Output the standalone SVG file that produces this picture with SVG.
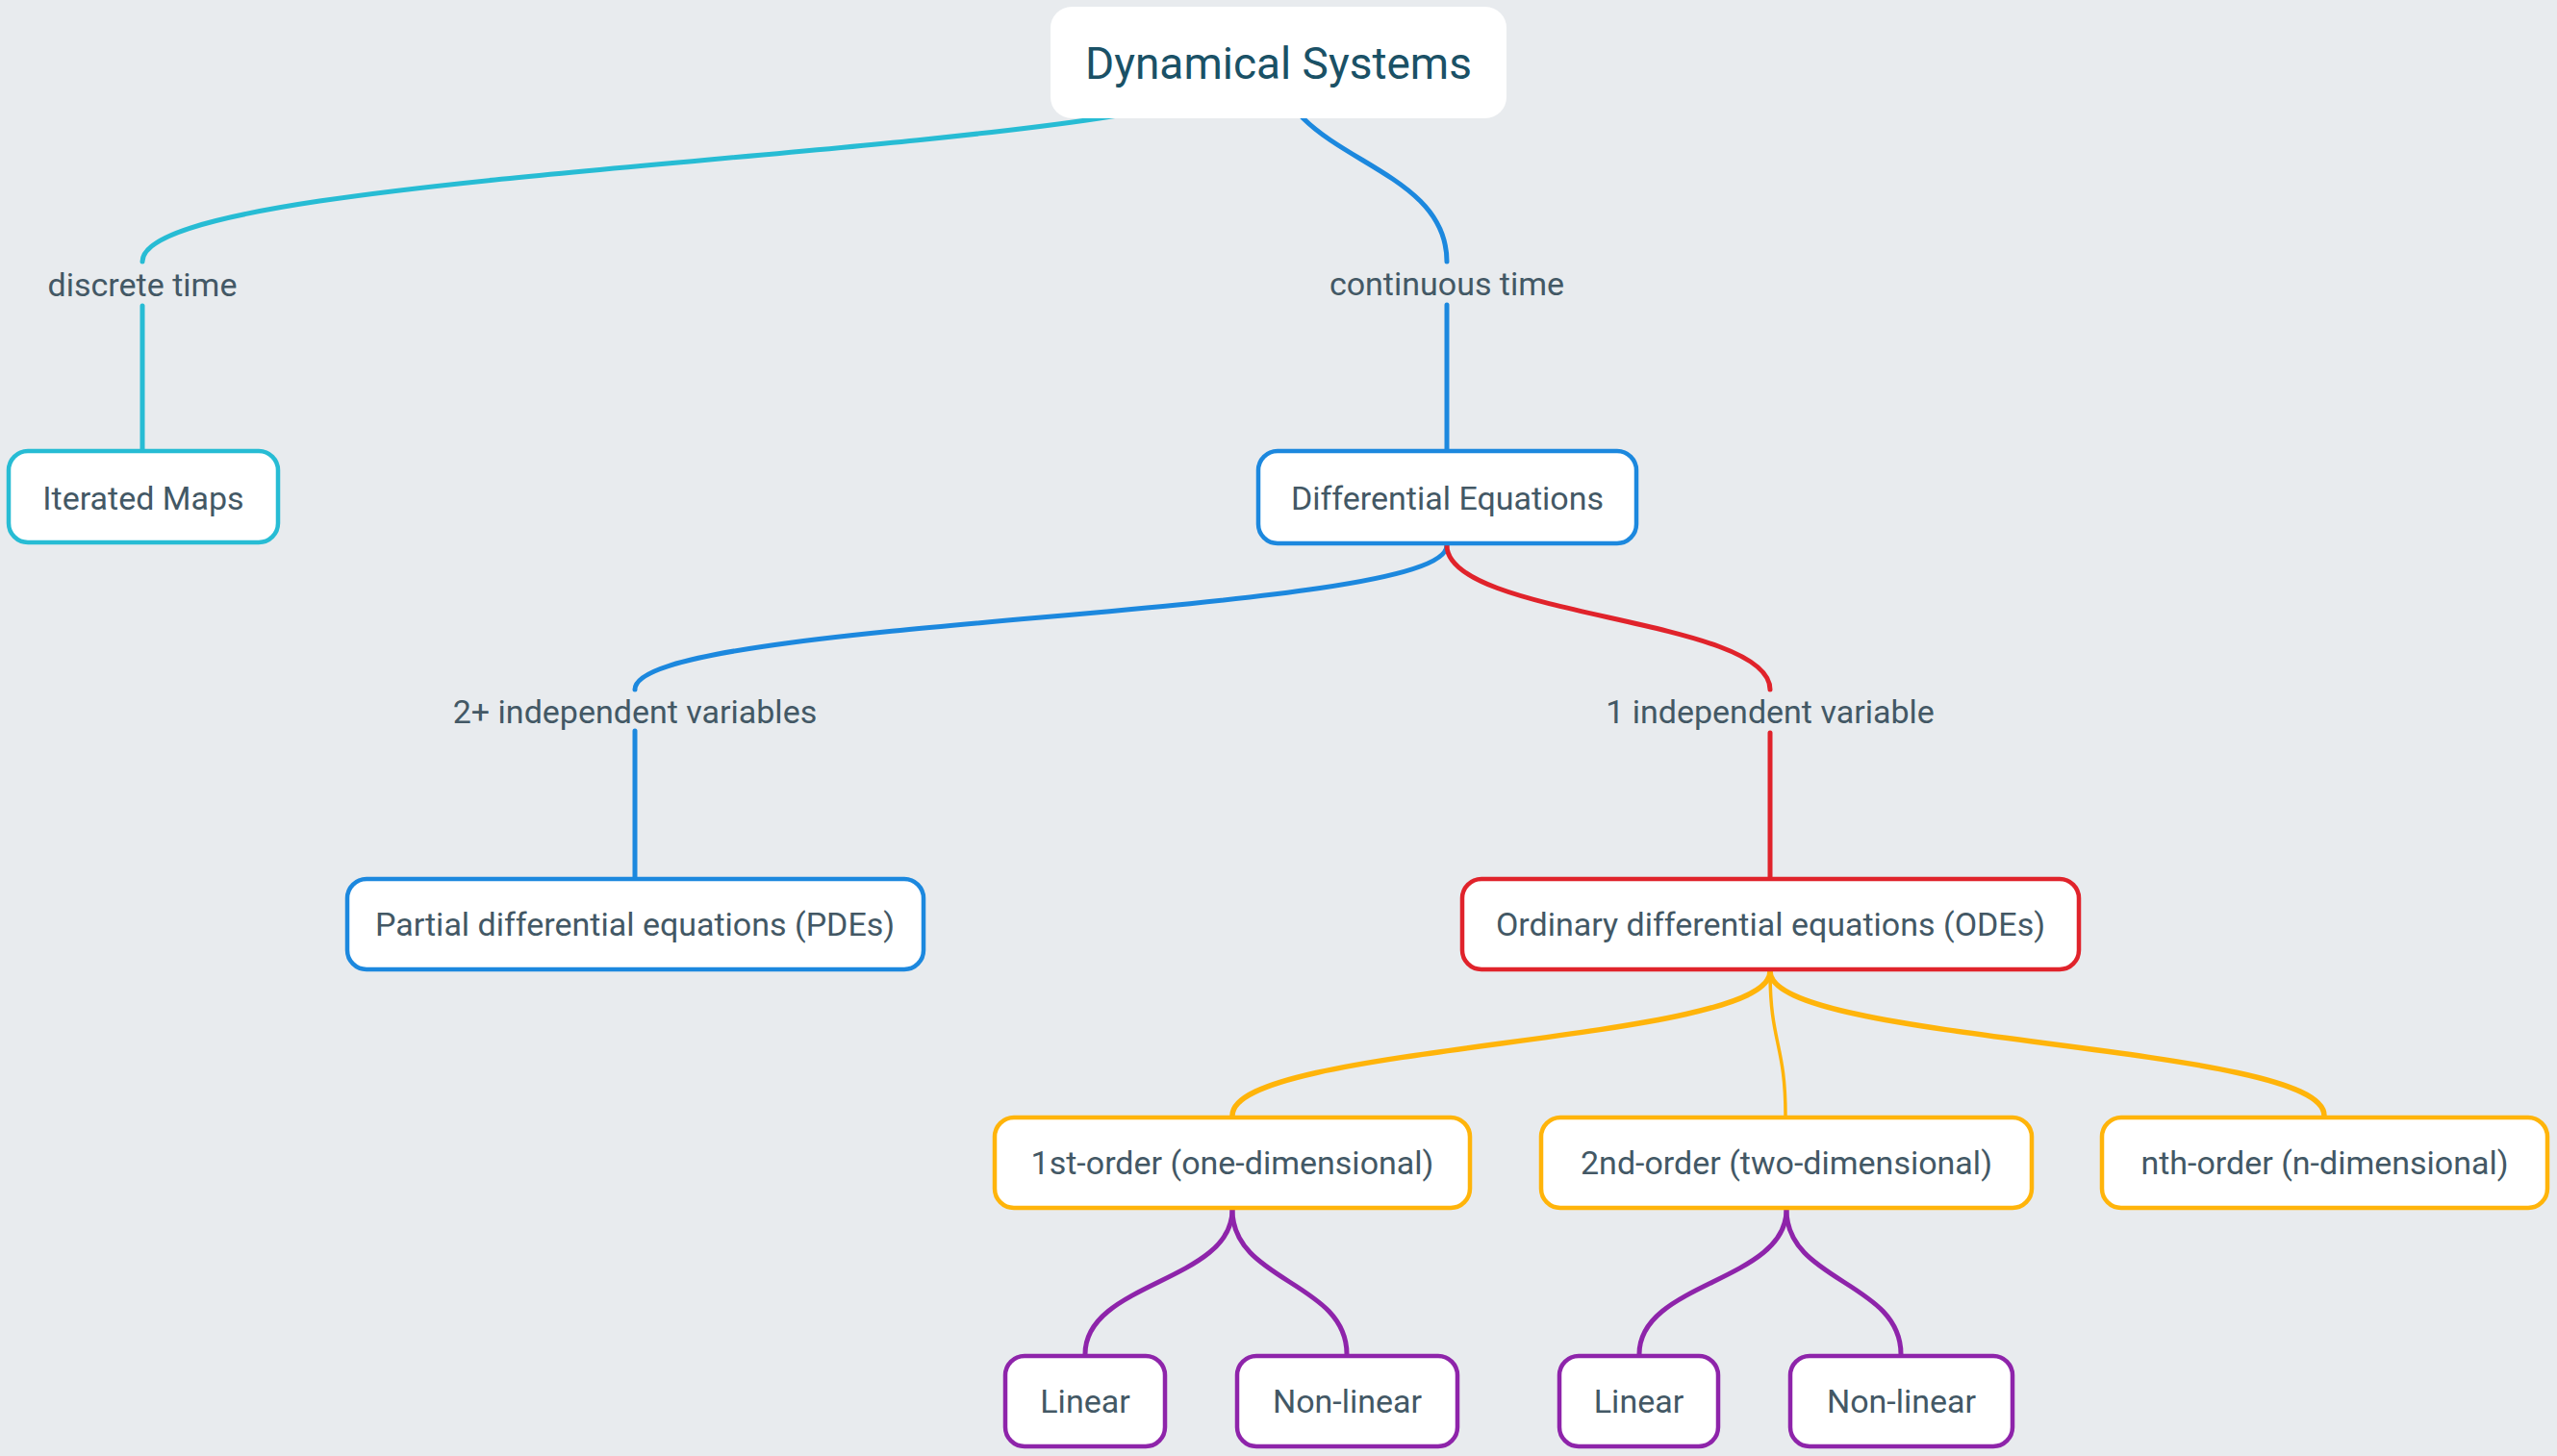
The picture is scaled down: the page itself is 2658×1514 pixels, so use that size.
<svg xmlns="http://www.w3.org/2000/svg" width="2658" height="1514" viewBox="0 0 2658 1514">
<style>
.bg{fill:#e8ebee}
.box{fill:#ffffff;stroke-width:4.5}
.t{font-family:Roboto,"Liberation Sans",sans-serif;font-size:34px;fill:#435865;text-anchor:middle}
.root{font-size:46px;fill:#1a5166}
.lnk{fill:none;stroke-width:5;stroke-linecap:round}
.cy{stroke:#27bcd4}
.bl{stroke:#1c88de}
.rd{stroke:#e0232b}
.yl{stroke:#ffb40a}
.pu{stroke:#8e24aa}
</style>
<rect class="bg" x="0" y="0" width="2658" height="1514"/>
<g id="connectors">
<path class="lnk cy" d="M1327,60 C1327,166 148,166 148,272"/>
<path class="lnk cy" d="M148,318 V467"/>
<path class="lnk bl" d="M1327,60 C1327,166 1504,166 1504,272"/>
<path class="lnk bl" d="M1504,317 V467"/>
<path class="lnk bl" d="M1504,567 C1504,642 660,642 660,717"/>
<path class="lnk bl" d="M660,760 V912"/>
<path class="lnk rd" d="M1504,567 C1504,642 1840,642 1840,717"/>
<path class="lnk rd" d="M1840,762 V912"/>
<path class="lnk yl" style="stroke-width:5.5" d="M1840,1010 C1840,1085 1281,1085 1281,1160"/>
<path class="lnk yl" style="stroke-width:3.5" d="M1840,1010 C1840,1085 1856,1085 1856,1160"/>
<path class="lnk yl" style="stroke-width:5.5" d="M1840,1010 C1840,1085 2416,1085 2416,1160"/>
<path class="lnk pu" d="M1281,1258 C1281,1333 1128,1333 1128,1408"/>
<path class="lnk pu" d="M1281,1258 C1281,1333 1400,1333 1400,1408"/>
<path class="lnk pu" d="M1857,1258 C1857,1333 1704,1333 1704,1408"/>
<path class="lnk pu" d="M1857,1258 C1857,1333 1976,1333 1976,1408"/>
</g>
<g id="labels">
<text class="t" x="148" y="308">discrete time</text>
<text class="t" x="1504" y="307">continuous time</text>
<text class="t" x="660" y="752">2+ independent variables</text>
<text class="t" x="1840" y="752">1 independent variable</text>
</g>
<g id="node-root">
<rect x="1092" y="7" width="474" height="116" rx="22" fill="#ffffff"/>
<text class="t root" x="1329" y="82">Dynamical Systems</text>
</g>
<g id="node-iterated">
<rect class="box cy" x="9" y="469" width="280" height="95" rx="20"/>
<text class="t" x="149" y="530">Iterated Maps</text>
</g>
<g id="node-diffeq">
<rect class="box bl" x="1308" y="469" width="393" height="96" rx="20"/>
<text class="t" x="1504.5" y="530">Differential Equations</text>
</g>
<g id="node-pde">
<rect class="box bl" x="361" y="914" width="599" height="94" rx="20"/>
<text class="t" x="660" y="973">Partial differential equations (PDEs)</text>
</g>
<g id="node-ode">
<rect class="box rd" x="1520" y="914" width="641" height="94" rx="20"/>
<text class="t" x="1840.5" y="973">Ordinary differential equations (ODEs)</text>
</g>
<g id="node-first">
<rect class="box yl" x="1034" y="1162" width="494" height="94" rx="20"/>
<text class="t" x="1281" y="1221">1st-order (one-dimensional)</text>
</g>
<g id="node-second">
<rect class="box yl" x="1602" y="1162" width="510" height="94" rx="20"/>
<text class="t" x="1857" y="1221">2nd-order (two-dimensional)</text>
</g>
<g id="node-nth">
<rect class="box yl" x="2185" y="1162" width="463" height="94" rx="20"/>
<text class="t" x="2416.5" y="1221">nth-order (n-dimensional)</text>
</g>
<g id="node-linear1">
<rect class="box pu" x="1045" y="1410" width="166" height="94" rx="20"/>
<text class="t" x="1128" y="1469">Linear</text>
</g>
<g id="node-nonlinear1">
<rect class="box pu" x="1286" y="1410" width="229" height="94" rx="20"/>
<text class="t" x="1400.5" y="1469">Non-linear</text>
</g>
<g id="node-linear2">
<rect class="box pu" x="1621" y="1410" width="165" height="94" rx="20"/>
<text class="t" x="1703.5" y="1469">Linear</text>
</g>
<g id="node-nonlinear2">
<rect class="box pu" x="1861" y="1410" width="231" height="94" rx="20"/>
<text class="t" x="1976.5" y="1469">Non-linear</text>
</g>
</svg>
